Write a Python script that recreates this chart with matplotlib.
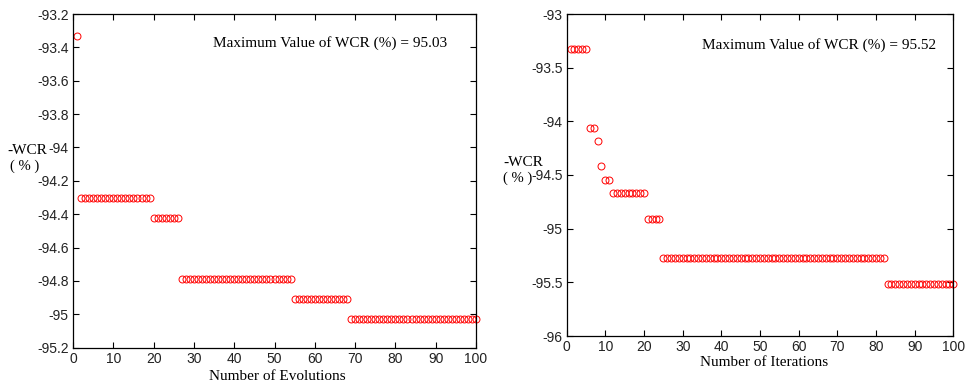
import matplotlib
matplotlib.use("Agg")
import matplotlib.pyplot as plt
from matplotlib.ticker import FuncFormatter

# ---- data ----
evolutions = list(range(1, 101))
wcr_evol = ([-93.33] + [-94.30] * 18 + [-94.42] * 7 + [-94.79] * 28
            + [-94.91] * 14 + [-95.03] * 32)

iterations = list(range(1, 101))
wcr_iter = ([-93.33] * 5 + [-94.06] * 2 + [-94.18] + [-94.42] + [-94.55] * 2
            + [-94.67] * 9 + [-94.91] * 4 + [-95.27] * 58 + [-95.52] * 18)

left_yticks = [-93.2, -93.4, -93.6, -93.8, -94, -94.2, -94.4, -94.6, -94.8, -95, -95.2]
right_yticks = [-93, -93.5, -94, -94.5, -95, -95.5, -96]
xticks = list(range(0, 101, 10))

left_note = "Maximum Value of WCR (%) = 95.03"
right_note = "Maximum Value of WCR (%) = 95.52"

W, H = 965, 384
fig = plt.figure(figsize=(W / 100, H / 100), dpi=100)

serif = "Liberation Serif"
sans = "Liberation Sans"

def fmt(v, pos):
    return "%g" % v

def style(ax, yticks, ylim):
    ax.set_xlim(0, 100)
    ax.set_ylim(*ylim)
    ax.set_xticks(xticks)
    ax.set_yticks(yticks)
    ax.yaxis.set_major_formatter(FuncFormatter(fmt))
    ax.tick_params(direction="in", top=True, right=True, length=4, width=0.8,
                   labelsize=10, pad=3)
    for lab in ax.get_xticklabels() + ax.get_yticklabels():
        lab.set_fontfamily(sans)
        lab.set_color("#222222")
    for s in ax.spines.values():
        s.set_linewidth(0.9)

# left axes
axL = fig.add_axes([73 / W, 1 - 347.7 / H, (476 - 73) / W, (347.7 - 14) / H])
axL.plot(evolutions, wcr_evol, linestyle="none", marker="o", markersize=5,
         markerfacecolor="none", markeredgecolor="red", markeredgewidth=0.7,
         clip_on=False)
style(axL, left_yticks, (-95.2, -93.2))
fig.text(213 / W, 1 - 43 / H, left_note, fontsize=11,
         family=serif, va="center", ha="left")
fig.text(277 / W, 1 - 377 / H, "Number of Evolutions", fontsize=11, family=serif,
         ha="center", va="center")
fig.text(27 / W, 1 - 150 / H, "-WCR", fontsize=11, family=serif, ha="center", va="center")
fig.text(25 / W, 1 - 166 / H, "( % )", fontsize=10.5, family=serif, ha="center", va="center")

# right axes
axR = fig.add_axes([566.7 / W, 1 - 336 / H, (953.3 - 566.7) / W, (336 - 14) / H])
axR.plot(iterations, wcr_iter, linestyle="none", marker="o", markersize=5,
         markerfacecolor="none", markeredgecolor="red", markeredgewidth=0.7,
         clip_on=False)
style(axR, right_yticks, (-96, -93))
fig.text(764 / W, 1 - 363 / H, "Number of Iterations", fontsize=11, family=serif,
         ha="center", va="center")
fig.text(523 / W, 1 - 162 / H, "-WCR", fontsize=11, family=serif, ha="center", va="center")
fig.text(518 / W, 1 - 178 / H, "( % )", fontsize=10.5, family=serif, ha="center", va="center")
fig.text(702 / W, 1 - 45 / H, right_note, fontsize=11, family=serif, va="center", ha="left")

fig.savefig("out.png", dpi=100)
